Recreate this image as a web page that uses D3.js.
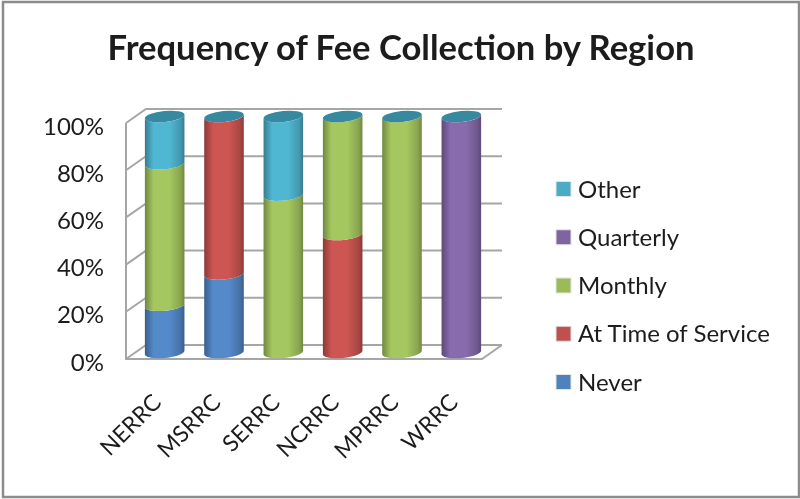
<!DOCTYPE html>
<html>
<head>
<meta charset="utf-8">
<script src="https://d3js.org/d3.v7.min.js"></script>
<style>
  html, body { margin: 0; padding: 0; background: #fff; }
  svg { display: block; filter: blur(0.45px); }
  text { font-family: Lato, "Open Sans", sans-serif; fill: #1c1c1c; }
</style>
</head>
<body>
<svg id="chart"></svg>
<script>
const regions = ["NERRC", "MSRRC", "SERRC", "NCRRC", "MPRRC", "WRRC"];
const seriesNames = ["Never", "At Time of Service", "Monthly", "Quarterly", "Other"];
const never = [20, 33.3, 0, 0, 0, 0];
const atTimeOfService = [0, 66.7, 0, 50, 0, 0];
const monthly = [60, 0, 66.7, 50, 100, 0];
const quarterly = [0, 0, 0, 0, 0, 100];
const other = [20, 0, 33.3, 0, 0, 0];
const seriesColors = ["#4f81bd", "#c0504d", "#9bbb59", "#8064a2", "#4bacc6"];
const yTicks = [0, 20, 40, 60, 80, 100];

const svgWidth = 800, svgHeight = 499;
const svg = d3.select("#chart").attr("width", svgWidth).attr("height", svgHeight);
const defs = svg.append("defs");

// one left-to-right shading per colour, gives the cylinder look
seriesColors.forEach((c, i) => {
  const grad = defs.append("linearGradient").attr("id", "cyl" + i);
  const dark = d3.color(c).darker(0.9), mid = d3.color(c).brighter(0.18);
  [[0, dark], [0.22, mid], [0.62, mid], [0.9, d3.color(c).darker(0.35)], [1, dark]].forEach(s => {
    grad.append("stop").attr("offset", s[0]).attr("stop-color", s[1]);
  });
});

// frame round the picture
svg.append("rect").attr("x", 3).attr("y", 2).attr("width", svgWidth - 4).attr("height", svgHeight - 4)
  .attr("fill", "#fff").attr("stroke", "#8c8c8c").attr("stroke-width", 2.5);

svg.append("text").attr("x", 401).attr("y", 60).attr("text-anchor", "middle")
  .attr("font-size", 34.6).attr("font-weight", 700).text("Frequency of Fee Collection by Region");

// front plane of the 3d box and the depth offset to the back wall
const y = d3.scaleLinear().domain([0, 100]).range([359, 123]);
const x = d3.scaleBand().domain(regions).range([126, 482]).paddingInner(0.33).paddingOuter(0.165);
const depthX = 20, depthY = -14;

const grid = svg.append("g").attr("fill", "none").attr("stroke", "#a6a6a6").attr("stroke-width", 2);
yTicks.forEach(t => {
  grid.append("path").attr("d", d3.line()([
    [126, y(t)], [126 + depthX, y(t) + depthY], [482 + depthX, y(t) + depthY]
  ]));
});
grid.append("path").attr("d", d3.line()([[126, y(100)], [126, y(0)], [482, y(0)], [482 + depthX, y(0) + depthY]]));

svg.append("g").selectAll("text").data(yTicks).join("text")
  .attr("x", 104).attr("y", d => y(d) + 3).attr("dy", "0.36em").attr("text-anchor", "end")
  .attr("font-size", 24).text(d => d + "%");

// stacked cylinders
const rows = regions.map((r, i) => ({
  region: r, Never: never[i], "At Time of Service": atTimeOfService[i],
  Monthly: monthly[i], Quarterly: quarterly[i], Other: other[i]
}));
const stacked = d3.stack().keys(seriesNames)(rows);

const tilt = -5.5 * Math.PI / 180, ry = 5.5, barDx = 9, barDy = -6.5;
const angles = d3.range(0, 25).map(i => i * Math.PI / 24);
// point on the tilted ellipse, a goes from the left end round the front to the right end
function ellipsePoint(cx, cy, rx, a) {
  const ex = -rx * Math.cos(a), ey = ry * Math.sin(a);
  return [cx + ex * Math.cos(tilt) - ey * Math.sin(tilt), cy + ex * Math.sin(tilt) + ey * Math.cos(tilt)];
}
function cylPath(xLeft, w, yBase, yTop) {
  const rx = w / 2, cx = xLeft + rx;
  const topEdge = angles.map(a => ellipsePoint(cx, yTop, rx, a));
  const baseEdge = angles.map(a => ellipsePoint(cx, yBase, rx, a)).reverse();
  return d3.line()(topEdge.concat(baseEdge)) + "Z";
}

const bars = svg.append("g");
stacked.forEach((s, si) => {
  bars.append("g").selectAll("path").data(s.filter(d => d[1] > d[0])).join("path")
    .attr("fill", `url(#cyl${si})`)
    .attr("d", d => cylPath(x(d.data.region) + barDx, x.bandwidth(), y(d[0]) + barDy, y(d[1]) + barDy));
});

// caps, always the teal of the empty top series
bars.append("g").selectAll("ellipse").data(regions).join("ellipse")
  .attr("cx", d => x(d) + barDx + x.bandwidth() / 2)
  .attr("cy", y(100) + barDy)
  .attr("rx", x.bandwidth() / 2).attr("ry", ry)
  .attr("transform", d => `rotate(-5.5 ${x(d) + barDx + x.bandwidth() / 2} ${y(100) + barDy})`)
  .attr("fill", "#37899f");

svg.append("g").selectAll("text").data(regions).join("text")
  .attr("font-size", 23).attr("text-anchor", "end")
  .attr("transform", d => `translate(${x(d) + x.bandwidth() / 2 + 7},${404}) rotate(-45)`)
  .text(d => d);

// legend reads top down, reverse of the stack
const legendNames = seriesNames.slice().reverse();
const legendY = d3.scalePoint().domain(legendNames).range([189, 382]);
const legend = svg.append("g").selectAll("g").data(legendNames).join("g")
  .attr("transform", d => `translate(556,${legendY(d)})`);
legend.append("rect").attr("x", 0).attr("y", -7.5).attr("width", 15).attr("height", 15)
  .attr("stroke", "#e4e4e4").attr("fill", d => seriesColors[seriesNames.indexOf(d)]);
legend.append("text").attr("x", 22).attr("dy", "0.36em").attr("font-size", 24).text(d => d);
</script>
</body>
</html>
